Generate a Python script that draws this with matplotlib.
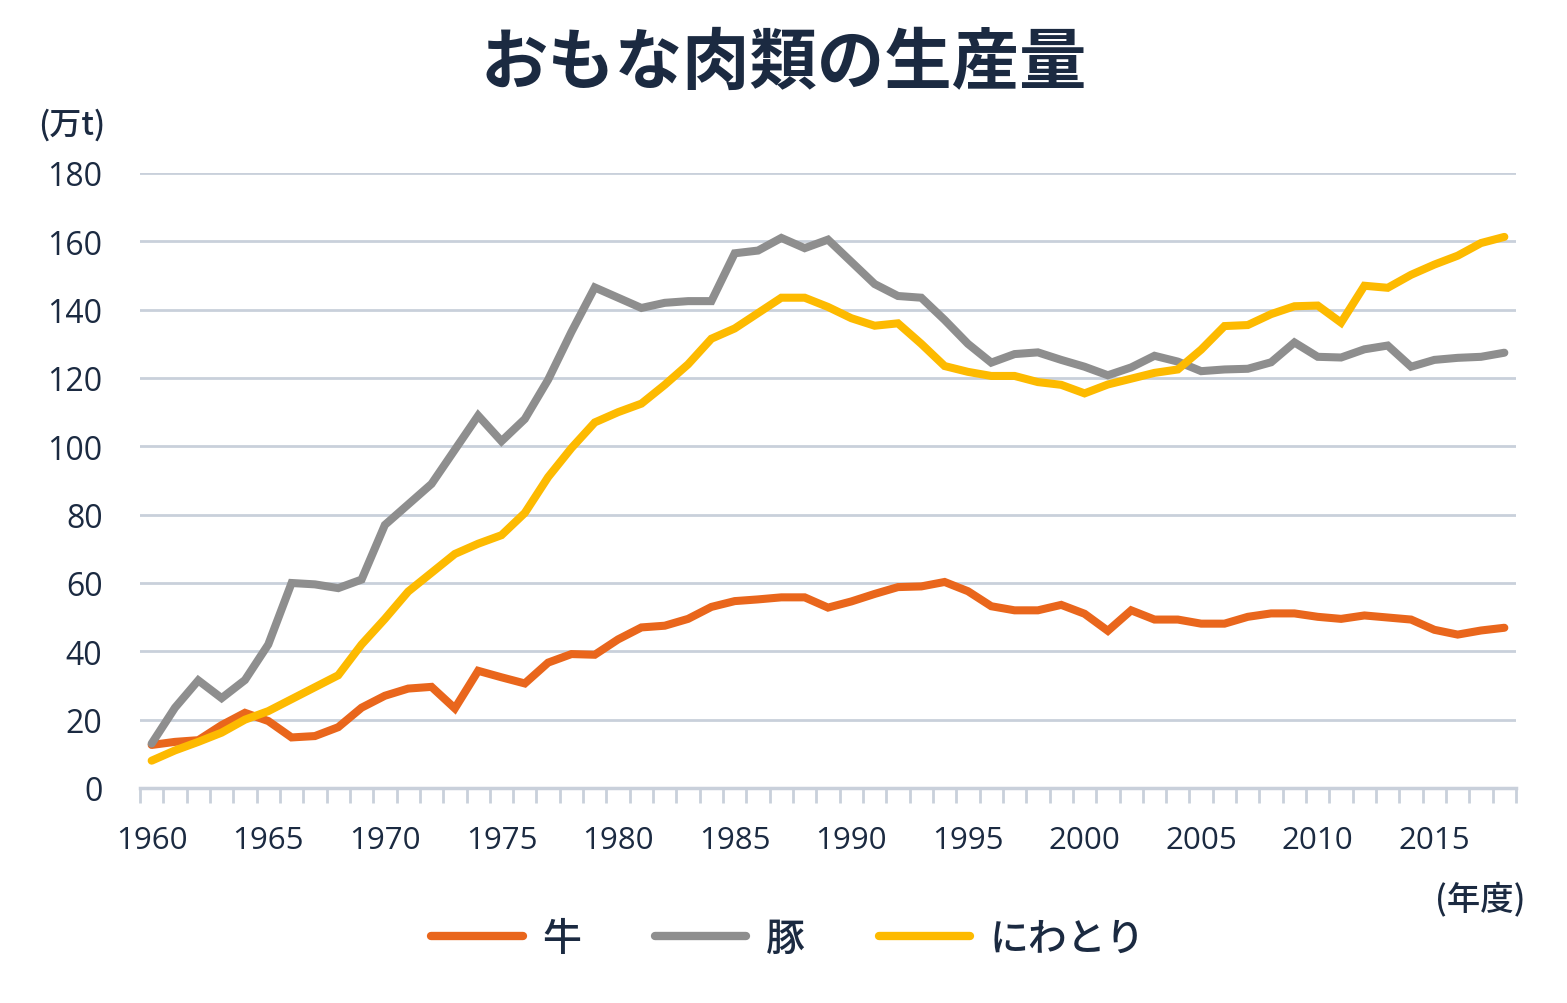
import matplotlib
matplotlib.use("Agg")
import matplotlib.pyplot as plt
import numpy as np

plt.rcParams['font.family'] = ['Noto Sans CJK JP', 'DejaVu Sans']

years = list(range(1960, 2019))

beef = [12.6, 13.5, 14.0, 18.4, 22.0, 19.6, 14.8, 15.2, 17.8, 23.5,
        27.0, 29.1, 29.6, 23.3, 34.3, 32.4, 30.6, 36.7, 39.2, 39.0,
        43.5, 47.0, 47.5, 49.5, 53.0, 54.7, 55.2, 55.8, 55.8, 52.8,
        54.6, 56.8, 58.8, 59.0, 60.3, 57.6, 53.2, 52.0, 52.0, 53.6,
        51.0, 46.0, 52.0, 49.3, 49.3, 48.1, 48.1, 50.1, 51.1, 51.1,
        50.1, 49.5, 50.5, 49.9, 49.3, 46.3, 44.9, 46.1, 46.9]

pork = [13.0, 23.5, 31.5, 26.3, 31.6, 42.0, 60.0, 59.6, 58.5, 61.0,
        77.0, 83.0, 89.0, 99.0, 109.0, 101.5, 108.0, 119.5, 133.5, 146.5,
        143.5, 140.5, 142.0, 142.5, 142.5, 156.5, 157.3, 161.0, 158.0, 160.5,
        154.0, 147.5, 144.0, 143.5, 137.0, 130.0, 124.5, 127.0, 127.5, 125.3,
        123.3, 120.8, 123.1, 126.5, 124.8, 122.0, 122.5, 122.7, 124.6, 130.4,
        126.2, 126.0, 128.4, 129.5, 123.3, 125.3, 125.9, 126.2, 127.4]

chicken = [8.0, 11.0, 13.5, 16.2, 20.0, 22.5, 26.0, 29.5, 33.0, 42.0,
           49.5, 57.5, 63.0, 68.5, 71.5, 74.0, 80.5, 91.0, 99.5, 107.0,
           110.0, 112.5, 118.0, 124.0, 131.5, 134.5, 139.0, 143.5, 143.5, 140.8,
           137.5, 135.3, 136.0, 130.0, 123.5, 121.8, 120.6, 120.6, 118.8, 118.0,
           115.5, 118.1, 119.8, 121.5, 122.5, 128.3, 135.2, 135.5, 138.7, 141.0,
           141.2, 136.2, 147.0, 146.4, 150.2, 153.2, 155.8, 159.5, 161.3]

series_names = ['牛', '豚', 'にわとり']
series_colors = ['#E9661C', '#8E8E8E', '#FDBA00']
y_ticks = [0, 20, 40, 60, 80, 100, 120, 140, 160, 180]
x_label_years = [1960, 1965, 1970, 1975, 1980, 1985, 1990, 1995, 2000, 2005, 2010, 2015]

navy = '#1B2A41'
grid_c = '#C9D0DB'
num_font = ['Open Sans', 'Noto Sans CJK JP', 'DejaVu Sans']

W, H = 1567, 1004
fig = plt.figure(figsize=(W / 100, H / 100), dpi=100)
ax = fig.add_axes([140 / W, 1 - 789 / H, 1376 / W, 615 / H])

x = np.arange(len(years))
for vals, name, col in zip([beef, pork, chicken], series_names, series_colors):
    ax.plot(x, vals, color=col, lw=5.8, solid_capstyle='round',
            solid_joinstyle='miter', label=name, zorder=3)

ax.set_xlim(-0.5, len(years) - 0.5)
ax.set_ylim(0, 180)
ax.set_yticks(y_ticks)
ax.set_yticklabels([str(v) for v in y_ticks], fontsize=23, color=navy,
                   family=num_font, fontweight='medium')
for v in y_ticks[1:]:
    ax.axhline(v, color=grid_c, lw=2, zorder=1)

ax.set_xticks([years.index(y) for y in x_label_years])
ax.set_xticklabels([str(y) for y in x_label_years], fontsize=22.5, color=navy,
                   family=num_font, fontweight='medium')
ax.set_xticks(np.arange(len(years) + 1) - 0.5, minor=True)
ax.tick_params(axis='x', which='major', length=0, pad=27)
ax.tick_params(axis='x', which='minor', length=11, width=2, color=grid_c)
ax.tick_params(axis='y', length=0, pad=27)

for s in ['top', 'right', 'left']:
    ax.spines[s].set_visible(False)
ax.spines['bottom'].set_color(grid_c)
ax.spines['bottom'].set_linewidth(2.5)

fig.text(0.5, 1 - 64 / H, 'おもな肉類の生産量', ha='center', va='center',
         fontsize=48.5, fontweight='bold', color=navy)
fig.text(38 / W, 1 - 125 / H, '(万t)', ha='left', va='center',
         fontsize=23, fontweight='medium', color=navy)
fig.text(1525 / W, 1 - 900 / H, '(年度)', ha='right', va='center',
         fontsize=24, fontweight='medium', color=navy)

leg = fig.legend(loc='center', bbox_to_anchor=(0.503, 1 - 940 / H), ncol=3,
                 frameon=False, prop={'size': 28, 'weight': 'medium'},
                 handlelength=2.35, handletextpad=0.5, columnspacing=1.9)
for t in leg.get_texts():
    t.set_color(navy)
for lh in leg.get_lines():
    lh.set_linewidth(6)
    lh.set_solid_capstyle('round')

fig.savefig('out.png', dpi=100, facecolor='white')
